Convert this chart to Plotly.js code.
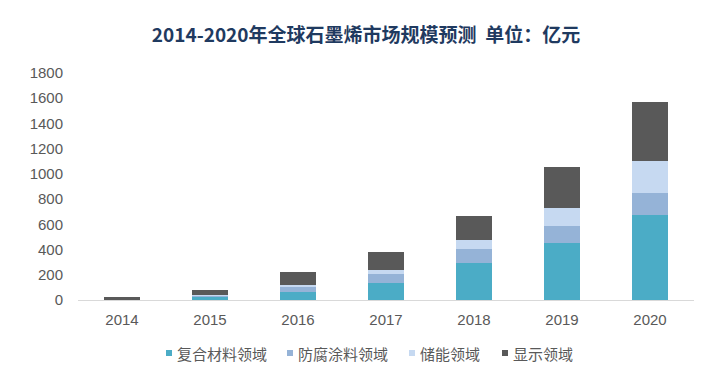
<!DOCTYPE html>
<html>
<head>
<meta charset="utf-8">
<script src="https://cdn.plot.ly/plotly-3.0.1.min.js"></script>
<style>html,body{margin:0;padding:0;background:#fff;}#chart{width:703px;height:367px;}</style>
</head>
<body>
<div id="chart"></div>
<script>
const years = ['2014','2015','2016','2017','2018','2019','2020'];
const composite = [2, 21, 61, 132, 293, 452, 672];
const anticorrosion = [1, 10, 44, 74, 109, 137, 174];
const energyStorage = [1, 8, 11, 34, 71, 141, 254];
const display = [20, 40, 106, 138, 193, 322, 468];
const seriesNames = ['复合材料领域', '防腐涂料领域', '储能领域', '显示领域'];
const seriesColors = ['#4BACC6', '#95B3D7', '#C6D9F1', '#595959'];
const yTicks = [0,200,400,600,800,1000,1200,1400,1600,1800];

const W = 703, H = 367;
const L = 78, R = 9, T = 73, B = 67;
const pw = W - L - R, ph = H - T - B;
const px = x => (x - L) / pw;
const py = y => (H - B - y) / ph;

const values = [composite, anticorrosion, energyStorage, display];
const traces = values.map((v, i) => ({
  type: 'bar',
  x: years,
  y: v,
  name: seriesNames[i],
  marker: {color: seriesColors[i], line: {width: 0}},
  hoverinfo: 'x+y+name'
}));

// custom legend (square marker close to label, as in reference)
const legendSquareX = [166, 287, 409, 502];
const legendY = 353;
const shapes = [];
const annotations = [];
seriesNames.forEach((n, i) => {
  const sx = legendSquareX[i];
  shapes.push({
    type: 'rect', xref: 'paper', yref: 'paper',
    x0: px(sx), x1: px(sx + 6), y0: py(legendY + 3), y1: py(legendY - 3),
    fillcolor: seriesColors[i], line: {width: 0}
  });
  annotations.push({
    xref: 'paper', yref: 'paper', x: px(sx + 9), y: py(legendY),
    xanchor: 'left', yanchor: 'middle', showarrow: false,
    text: n, font: {size: 15, color: '#595959', family: '"Noto Sans CJK SC", sans-serif'}
  });
});

const layout = {
  width: W, height: H,
  margin: {l: L, r: R, t: T, b: B, autoexpand: false},
  barmode: 'stack',
  bargap: 0.59,
  paper_bgcolor: '#fff', plot_bgcolor: '#fff',
  font: {family: '"Noto Sans CJK SC", "Liberation Sans", Arial, sans-serif', color: '#595959', size: 13},
  title: {
    text: '<b>2014-2020年全球石墨烯市场规模预测  单位：亿元</b>',
    font: {size: 19, color: '#1F3A60', family: '"Noto Sans CJK SC", "Liberation Sans", sans-serif'},
    x: 366 / W, xanchor: 'center', xref: 'container',
    y: 1 - 35 / H, yanchor: 'middle', yref: 'container'
  },
  xaxis: {
    type: 'category',
    showline: true, linecolor: '#D9D9D9', linewidth: 1,
    ticks: '', showgrid: false,
    ticklabelstandoff: 6,
    tickfont: {size: 15, color: '#595959', family: '"Liberation Sans", Arial, sans-serif'}
  },
  yaxis: {
    range: [0, 1800],
    tickvals: yTicks,
    ticktext: yTicks.map(String),
    showgrid: false, zeroline: false, showline: false, ticks: '',
    ticklabelstandoff: 14,
    tickfont: {size: 15, color: '#595959', family: '"Liberation Sans", Arial, sans-serif'}
  },
  showlegend: false,
  shapes: shapes,
  annotations: annotations
};

Plotly.newPlot('chart', traces, layout, {displayModeBar: false, staticPlot: true});
</script>
</body>
</html>
